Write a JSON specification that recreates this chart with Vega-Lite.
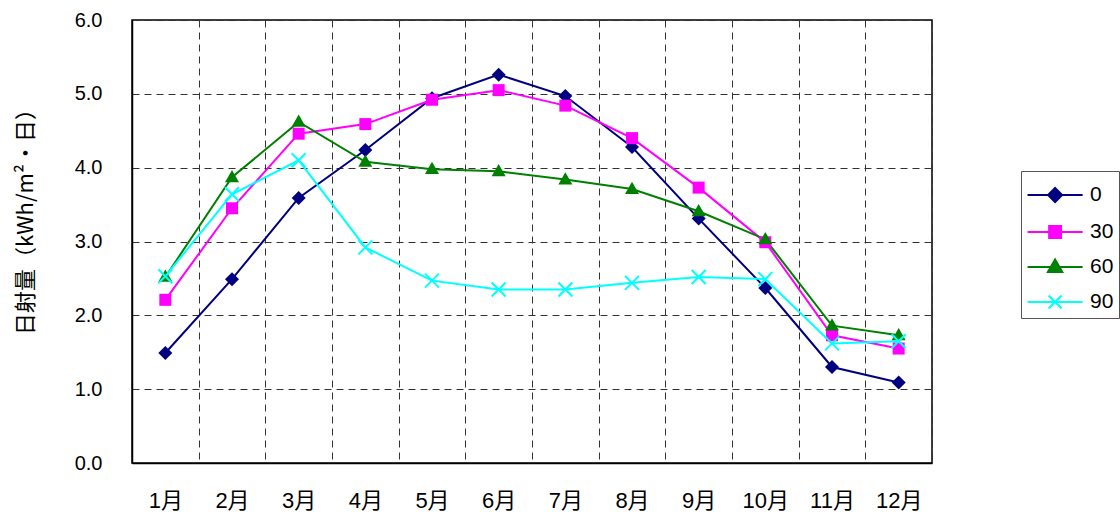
{
  "$schema": "https://vega.github.io/schema/vega-lite/v6.json",
  "width": 800,
  "height": 443,
  "autosize": "none",
  "padding": {"left": 132, "top": 20, "right": 188, "bottom": 49},
  "background": "white",
  "config": {
    "font": "Liberation Sans, Noto Sans CJK JP",
    "view": {"stroke": "black", "strokeWidth": 1.5},
    "axis": {
      "labelFont": "Liberation Sans, Noto Sans CJK JP",
      "titleFont": "Noto Sans CJK JP",
      "labelColor": "black",
      "titleColor": "black",
      "domainColor": "black",
      "domainWidth": 1.5,
      "ticks": false,
      "gridColor": "#333333",
      "gridDash": [7, 5],
      "gridWidth": 1,
      "gridOpacity": 1
    }
  },
  "data": {
    "values": [
      {"month": "1月", "series": "0", "value": 1.49},
      {"month": "2月", "series": "0", "value": 2.49},
      {"month": "3月", "series": "0", "value": 3.59},
      {"month": "4月", "series": "0", "value": 4.24},
      {"month": "5月", "series": "0", "value": 4.94},
      {"month": "6月", "series": "0", "value": 5.26},
      {"month": "7月", "series": "0", "value": 4.97},
      {"month": "8月", "series": "0", "value": 4.28},
      {"month": "9月", "series": "0", "value": 3.31},
      {"month": "10月", "series": "0", "value": 2.37},
      {"month": "11月", "series": "0", "value": 1.30},
      {"month": "12月", "series": "0", "value": 1.09},
      {"month": "1月", "series": "30", "value": 2.21},
      {"month": "2月", "series": "30", "value": 3.45},
      {"month": "3月", "series": "30", "value": 4.46},
      {"month": "4月", "series": "30", "value": 4.59},
      {"month": "5月", "series": "30", "value": 4.92},
      {"month": "6月", "series": "30", "value": 5.05},
      {"month": "7月", "series": "30", "value": 4.84},
      {"month": "8月", "series": "30", "value": 4.40},
      {"month": "9月", "series": "30", "value": 3.73},
      {"month": "10月", "series": "30", "value": 2.99},
      {"month": "11月", "series": "30", "value": 1.73},
      {"month": "12月", "series": "30", "value": 1.55},
      {"month": "1月", "series": "60", "value": 2.52},
      {"month": "2月", "series": "60", "value": 3.87},
      {"month": "3月", "series": "60", "value": 4.62},
      {"month": "4月", "series": "60", "value": 4.08},
      {"month": "5月", "series": "60", "value": 3.98},
      {"month": "6月", "series": "60", "value": 3.95},
      {"month": "7月", "series": "60", "value": 3.84},
      {"month": "8月", "series": "60", "value": 3.71},
      {"month": "9月", "series": "60", "value": 3.41},
      {"month": "10月", "series": "60", "value": 3.03},
      {"month": "11月", "series": "60", "value": 1.86},
      {"month": "12月", "series": "60", "value": 1.73},
      {"month": "1月", "series": "90", "value": 2.53},
      {"month": "2月", "series": "90", "value": 3.64},
      {"month": "3月", "series": "90", "value": 4.10},
      {"month": "4月", "series": "90", "value": 2.92},
      {"month": "5月", "series": "90", "value": 2.47},
      {"month": "6月", "series": "90", "value": 2.35},
      {"month": "7月", "series": "90", "value": 2.35},
      {"month": "8月", "series": "90", "value": 2.44},
      {"month": "9月", "series": "90", "value": 2.52},
      {"month": "10月", "series": "90", "value": 2.49},
      {"month": "11月", "series": "90", "value": 1.62},
      {"month": "12月", "series": "90", "value": 1.65}
    ]
  },
  "encoding": {
    "x": {
      "field": "month",
      "type": "nominal",
      "sort": ["1月", "2月", "3月", "4月", "5月", "6月", "7月", "8月", "9月", "10月", "11月", "12月"],
      "scale": {"paddingInner": 0, "paddingOuter": 0},
      "axis": {
        "title": null,
        "labelAngle": 0,
        "labelFontSize": 22,
        "labelPadding": 27,
        "grid": true,
        "tickBand": "extent"
      }
    },
    "y": {
      "field": "value",
      "type": "quantitative",
      "scale": {"domain": [0, 6], "nice": false, "zero": true},
      "axis": {
        "title": "日射量（kWh/m²・日）",
        "titleFontSize": 22,
        "titleFontWeight": "normal",
        "titlePadding": 37,
        "titleY": 196,
        "labelFontSize": 20,
        "labelPadding": 30,
        "format": ".1f",
        "values": [0, 1, 2, 3, 4, 5, 6],
        "grid": true
      }
    },
    "color": {
      "field": "series",
      "type": "nominal",
      "scale": {"domain": ["0", "30", "60", "90"], "range": ["#000080", "#FF00FF", "#008000", "#00FFFF"]},
      "legend": null
    }
  },
  "layer": [
    {
      "mark": {"type": "line", "strokeWidth": 2},
      "encoding": {
        "color": {
          "field": "series",
          "type": "nominal",
          "scale": {"domain": ["0", "30", "60", "90"], "range": ["#000080", "#FF00FF", "#008000", "#00FFFF"]},
          "legend": {
            "orient": "none",
            "legendX": 889,
            "legendY": 151,
            "title": null,
            "strokeColor": "#555555",
            "fillColor": "white",
            "padding": 5,
            "symbolSize": 1296,
            "symbolStrokeWidth": 2,
            "labelFontSize": 21,
            "labelOffset": 26,
            "labelColor": "black",
            "labelFont": "Liberation Sans",
            "rowPadding": 6,
            "encode": {
              "symbols": {
                "update": {
                  "shape": {"signal": "datum.value == '0' ? 'M-0.97,0H2.09M0.56,-0.39L0.95,0L0.56,0.39L0.17,0Z' : datum.value == '30' ? 'M-0.97,0H2.09M0.23,-0.33H0.89V0.33H0.23Z' : datum.value == '60' ? 'M-0.97,0H2.09M0.56,-0.42L0.96,0.28L0.16,0.28Z' : 'M-0.97,0H2.09M0.2,-0.36L0.92,0.36M0.2,0.36L0.92,-0.36'"},
                  "fill": {"scale": "color", "field": "value"},
                  "stroke": {"scale": "color", "field": "value"},
                  "strokeWidth": {"value": 2},
                  "size": {"value": 1296},
                  "opacity": {"value": 1}
                }
              }
            }
          }
        }
      }
    },
    {
      "transform": [{"filter": "datum.series == '0'"}],
      "mark": {"type": "point", "filled": true, "opacity": 1, "size": 196, "shape": "M0,-1L1,0L0,1L-1,0Z"},
      "encoding": {"color": {"field": "series", "type": "nominal", "legend": null}}
    },
    {
      "transform": [{"filter": "datum.series == '30'"}],
      "mark": {"type": "point", "filled": true, "opacity": 1, "size": 144, "shape": "square"},
      "encoding": {"color": {"field": "series", "type": "nominal", "legend": null}}
    },
    {
      "transform": [{"filter": "datum.series == '60'"}],
      "mark": {"type": "point", "filled": true, "opacity": 1, "size": 196, "shape": "M0,-1.05L1,0.7L-1,0.7Z"},
      "encoding": {"color": {"field": "series", "type": "nominal", "legend": null}}
    },
    {
      "transform": [{"filter": "datum.series == '90'"}],
      "mark": {"type": "point", "filled": false, "opacity": 1, "size": 196, "strokeWidth": 2, "shape": "M-1,-1L1,1M-1,1L1,-1"},
      "encoding": {"color": {"field": "series", "type": "nominal", "legend": null}}
    }
  ]
}
